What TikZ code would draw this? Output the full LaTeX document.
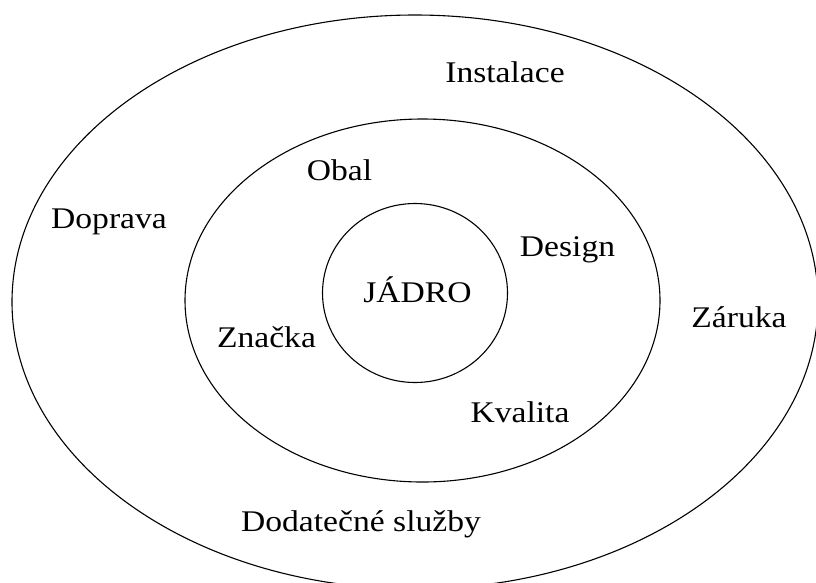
\documentclass[tikz,border=0pt]{standalone}
\usepackage{fontspec}
\setmainfont{Liberation Serif}[FakeStretch=1.12]
\begin{document}
\begin{tikzpicture}[x=1pt,y=-1pt,
  ring/.style={draw=black,line width=1.1pt},
  lbl/.style={anchor=base,inner sep=0pt,font=\fontsize{30}{36}\selectfont}]
\useasboundingbox (0,0) rectangle (816,582);
\fill[white] (0,0) rectangle (816,582);
\draw[ring] (415,302) ellipse [x radius=403, y radius=287];
\draw[ring] (422.5,300.5) ellipse [x radius=237.5, y radius=181.5];
\draw[ring] (415,293) ellipse [x radius=92.5, y radius=89.5];
\node[lbl] (instalace) at (505,82) {Instalace};
\node[lbl] (obal) at (339.5,180) {Obal};
\node[lbl] (doprava) at (109,228) {Doprava};
\node[lbl] (design) at (567.5,256) {Design};
\node[lbl] (jadro) at (417.5,302) {JÁDRO};
\node[lbl] (zaruka) at (739,327) {Záruka};
\node[lbl] (znacka) at (266.5,347) {Značka};
\node[lbl] (kvalita) at (520,422) {Kvalita};
\node[lbl] (dodatecne) at (361,531) {Dodatečné služby};
\end{tikzpicture}
\end{document}
